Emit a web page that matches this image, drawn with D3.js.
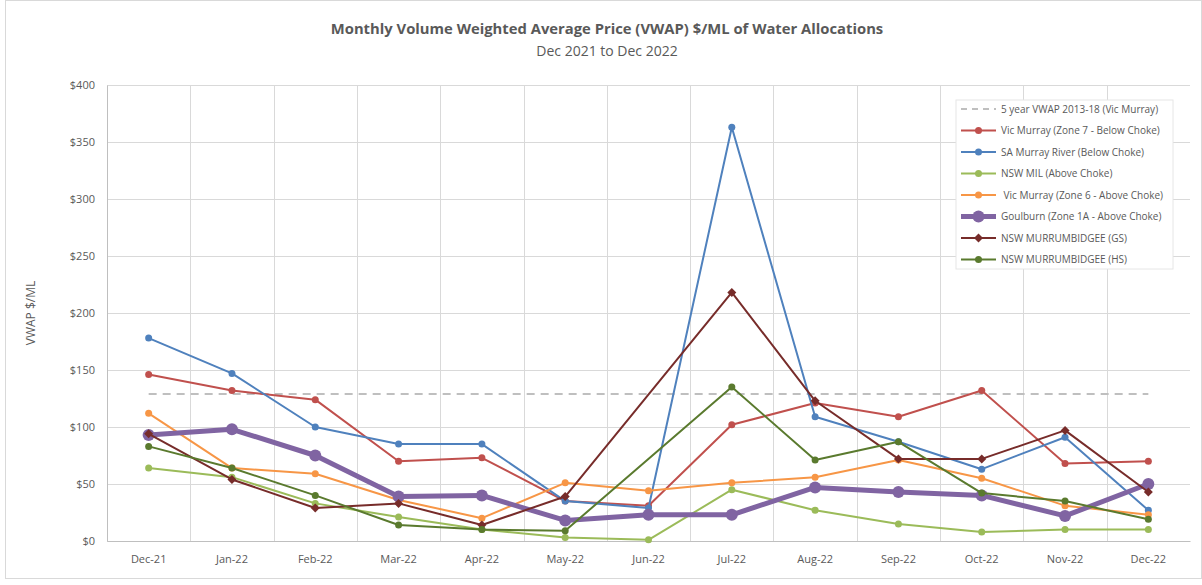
<!DOCTYPE html>
<html>
<head>
<meta charset="utf-8">
<script src="https://cdn.jsdelivr.net/npm/d3@7/dist/d3.min.js"></script>
<style>
  body { margin: 0; background: #fff; }
  text { font-family: "Open Sans", "Noto Sans", sans-serif; fill: #595959; }
</style>
</head>
<body>
<svg id="chart" width="1202" height="585"></svg>
<script>
// data
var months = ["Dec-21", "Jan-22", "Feb-22", "Mar-22", "Apr-22", "May-22", "Jun-22",
              "Jul-22", "Aug-22", "Sep-22", "Oct-22", "Nov-22", "Dec-22"];
var yTicks = [0, 50, 100, 150, 200, 250, 300, 350, 400];
var benchmark = 129; // 5 year VWAP 2013-18 (Vic Murray)

var vicZone7   = [146, 132, 124, 70, 73, 35, 31, 102, 121, 109, 132, 68, 70];
var saMurray   = [178, 147, 100, 85, 85, 35, 29, 363, 109, 87, 63, 91, 27];
var nswMil     = [64, 56, 33, 21, 10, 3, 1, 45, 27, 15, 8, 10, 10];
var vicZone6   = [112, 64, 59, 36, 20, 51, 44, 51, 56, 71, 55, 31, 23];
var goulburn   = [93, 98, 75, 39, 40, 18, 23, 23, 47, 43, 40, 22, 50];
var murrGS     = [94, 54, 29, 33, 14, 39, null, 218, 123, 72, 72, 97, 43];
var murrHS     = [83, 64, 40, 14, 10, 9, null, 135, 71, 87, 42, 35, 19];

var series = [
  {name: "Vic Murray (Zone 7 - Below Choke)", values: vicZone7, color: "#C0504D", width: 2, r: 3.5, shape: "circle"},
  {name: "SA Murray River (Below Choke)", values: saMurray, color: "#4F81BD", width: 2, r: 3.5, shape: "circle"},
  {name: "NSW MIL (Above Choke)", values: nswMil, color: "#9BBB59", width: 2, r: 3.5, shape: "circle"},
  {name: " Vic Murray (Zone 6 - Above Choke)", values: vicZone6, color: "#F79646", width: 2, r: 3.5, shape: "circle"},
  {name: "Goulburn (Zone 1A - Above Choke)", values: goulburn, color: "#8064A2", width: 5, r: 6, shape: "circle"},
  {name: "NSW MURRUMBIDGEE (GS)", values: murrGS, color: "#772C2A", width: 2, r: 4.5, shape: "diamond"},
  {name: "NSW MURRUMBIDGEE (HS)", values: murrHS, color: "#5A7A2E", width: 2, r: 3.5, shape: "circle"}
];

var margin = {top: 85, right: 12, bottom: 44, left: 107},
    width = 1202 - margin.left - margin.right,
    height = 585 - margin.top - margin.bottom;

var svg = d3.select("#chart");

// outer border
svg.append("rect")
    .attr("x", 5.5).attr("y", 0.5)
    .attr("width", 1196).attr("height", 578)
    .attr("fill", "none")
    .attr("stroke", "#d9d9d9");

svg.append("text")
    .attr("x", 607).attr("y", 34)
    .attr("text-anchor", "middle")
    .attr("font-size", "14.8px")
    .attr("font-weight", "bold")
    .text("Monthly Volume Weighted Average Price (VWAP) $/ML of Water Allocations");

svg.append("text")
    .attr("x", 607).attr("y", 56)
    .attr("text-anchor", "middle")
    .attr("font-size", "14px")
    .text("Dec 2021 to Dec 2022");

var g = svg.append("g")
    .attr("transform", "translate(" + margin.left + "," + margin.top + ")");

var x = d3.scaleBand()
    .domain(months)
    .range([0, width]);

var y = d3.scaleLinear()
    .domain([0, 400])
    .range([height, 0]);

var cx = function(i) { return x(months[i]) + x.bandwidth() / 2; };

// horizontal gridlines
g.append("g")
  .selectAll("line")
  .data(yTicks)
  .enter().append("line")
    .attr("x1", 0).attr("x2", width)
    .attr("y1", function(d) { return Math.round(y(d)) + 0.5; })
    .attr("y2", function(d) { return Math.round(y(d)) + 0.5; })
    .attr("stroke", "#d9d9d9");

// vertical gridlines between categories
g.append("g")
  .selectAll("line")
  .data(months)
  .enter().append("line")
    .attr("x1", function(d) { return Math.round(x(d)) + 0.5; })
    .attr("x2", function(d) { return Math.round(x(d)) + 0.5; })
    .attr("y1", 0).attr("y2", height)
    .attr("stroke", "#d9d9d9");

// axes
var yAxis = g.append("g")
    .call(d3.axisLeft(y).tickValues(yTicks).tickSize(0).tickPadding(12)
      .tickFormat(function(d) { return "$" + d; }));
yAxis.select(".domain").attr("stroke", "#bfbfbf");
yAxis.selectAll("text").attr("font-size", "11px").attr("fill", "#595959");

var xAxis = g.append("g")
    .attr("transform", "translate(0," + height + ")")
    .call(d3.axisBottom(x).tickSize(0).tickPadding(14));
xAxis.select(".domain").attr("stroke", "#bfbfbf");
xAxis.selectAll("text").attr("font-size", "11px").attr("fill", "#595959");

svg.append("text")
    .attr("transform", "translate(35," + (margin.top + height / 2) + ") rotate(-90)")
    .attr("text-anchor", "middle")
    .attr("font-size", "12px")
    .text("VWAP $/ML");

// benchmark dashed line
g.append("line")
    .attr("x1", cx(0)).attr("x2", cx(months.length - 1))
    .attr("y1", y(benchmark)).attr("y2", y(benchmark))
    .attr("stroke", "#bfbfbf")
    .attr("stroke-width", 2)
    .attr("stroke-dasharray", "8,6");

var line = d3.line()
    .x(function(d) { return cx(d.i); })
    .y(function(d) { return y(d.v); });

// square diamond marker, r = half diagonal
var diamondPath = function(r) {
  return "M0," + (-r) + "L" + r + ",0L0," + r + "L" + (-r) + ",0Z";
};

series.forEach(function(s) {
  var pts = s.values.map(function(v, i) { return {i: i, v: v}; })
      .filter(function(d) { return d.v !== null; });
  var sg = g.append("g");
  sg.append("path")
      .datum(pts)
      .attr("fill", "none")
      .attr("stroke", s.color)
      .attr("stroke-width", s.width)
      .attr("stroke-linejoin", "round")
      .attr("d", line);
  if (s.shape === "diamond") {
    sg.selectAll("path.m")
      .data(pts)
      .enter().append("path")
        .attr("class", "m")
        .attr("transform", function(d) { return "translate(" + cx(d.i) + "," + y(d.v) + ")"; })
        .attr("d", diamondPath(s.r))
        .attr("fill", s.color);
  } else {
    sg.selectAll("circle")
      .data(pts)
      .enter().append("circle")
        .attr("cx", function(d) { return cx(d.i); })
        .attr("cy", function(d) { return y(d.v); })
        .attr("r", s.r)
        .attr("fill", s.color);
  }
});

// legend
var legendItems = [{name: "5 year VWAP 2013-18 (Vic Murray)", dashed: true}].concat(series);
var legend = svg.append("g").attr("transform", "translate(956,100)");
legend.append("rect")
    .attr("width", 217).attr("height", 169)
    .attr("fill", "#fff")
    .attr("stroke", "#e6e6e6");

var item = legend.selectAll(".legend")
    .data(legendItems)
  .enter().append("g")
    .attr("class", "legend")
    .attr("transform", function(d, i) { return "translate(0," + (9 + i * 21.5) + ")"; });

item.append("line")
    .attr("x1", 5).attr("x2", 40)
    .attr("stroke", function(d) { return d.dashed ? "#bfbfbf" : d.color; })
    .attr("stroke-width", function(d) { return d.dashed ? 2 : d.width; })
    .attr("stroke-dasharray", function(d) { return d.dashed ? "6,5" : null; });

item.filter(function(d) { return !d.dashed && d.shape === "circle"; })
  .append("circle")
    .attr("cx", 22.5)
    .attr("r", function(d) { return d.r; })
    .attr("fill", function(d) { return d.color; });

item.filter(function(d) { return d.shape === "diamond"; })
  .append("path")
    .attr("transform", "translate(22.5,0)")
    .attr("d", function(d) { return diamondPath(d.r); })
    .attr("fill", function(d) { return d.color; });

item.append("text")
    .attr("x", 45)
    .attr("dy", "0.35em")
    .attr("font-size", "10px")
    .style("white-space", "pre")
    .text(function(d) { return d.name; });
</script>
</body>
</html>
